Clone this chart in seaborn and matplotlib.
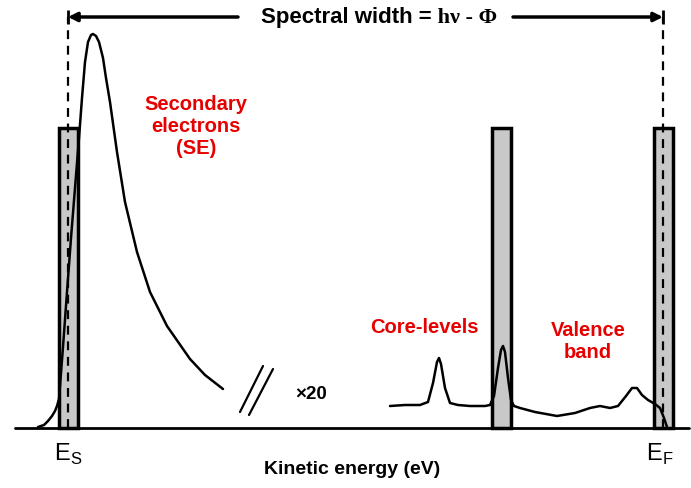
import numpy as np
import pandas as pd
import seaborn as sns
import matplotlib.pyplot as plt

# Schematic photoemission spectrum.
# kinetic energy in arbitrary units (left -> right), intensity in arbitrary units (baseline = 0)
se_energy = [38, 44, 48, 52, 55, 57, 59, 63, 67, 71, 75, 79, 82, 85, 88, 91, 93,
             96, 99, 103, 106, 110, 117, 125, 137, 150, 167, 190, 205, 223]
se_intensity = [1, 3, 7, 12, 17, 22, 29, 81, 136, 190, 240, 290, 330, 366, 386, 393, 394,
                392, 386, 370, 350, 326, 276, 226, 176, 136, 102, 69, 53, 39]

vb_energy = [390, 405, 420, 428, 433, 437, 439, 441, 445, 450, 458, 470, 485, 490,
             494, 498, 501, 503, 505, 508, 511, 514, 520, 535, 557, 575, 590, 600,
             610, 618, 626, 632, 637, 642, 648, 655, 660, 664, 667]
vb_intensity = [22, 23, 23, 26, 45, 66, 70, 64, 40, 25, 23, 22, 22, 23,
                32, 60, 78, 82, 76, 50, 28, 22, 20, 16, 12, 15, 20, 22,
                20, 22, 32, 40, 40, 33, 28, 24, 20, 10, 1]

bar_centers = [69, 502, 663.5]
bar_height = [300, 300, 300]

edge_energy = [68, 663]           # E_S and E_F
edge_labels = ['E$_\\mathregular{S}$', 'E$_\\mathregular{F}$']
edge_label_x = [68, 660]

se = pd.DataFrame({'energy': se_energy, 'intensity': se_intensity})
vb = pd.DataFrame({'energy': vb_energy, 'intensity': vb_intensity})

sns.set_style('white')
plt.rcParams['font.family'] = ['Liberation Sans', 'DejaVu Sans']
plt.rcParams['text.color'] = 'black'

fig = plt.figure(figsize=(6.91, 4.89), dpi=100)
ax = fig.add_axes([0, 0, 1, 1])
ax.set_xlim(0, 691)
ax.set_ylim(-60, 429)
ax.axis('off')

# grey windows
ax.bar(bar_centers, bar_height, width=19, color='#c8c8c8', edgecolor='black',
       linewidth=2.5, zorder=1)

# spectrum
sns.lineplot(data=se, x='energy', y='intensity', sort=False, estimator=None,
             color='black', lw=1.8, ax=ax, zorder=3)
sns.lineplot(data=vb, x='energy', y='intensity', sort=False, estimator=None,
             color='black', lw=1.8, ax=ax, zorder=3)

# energy axis
ax.axhline(0, xmin=15 / 691, xmax=689 / 691, color='black', lw=2, zorder=4)

# dashed edges
ax.vlines(edge_energy, 0, 411, colors='black', linestyles=(0, (4, 3)), lw=1.6, zorder=4)
for xl, lab in zip(edge_label_x, edge_labels):
    ax.text(xl, -25, lab, ha='center', va='center', fontsize=17)

# spectral width arrow (two halves around the label)
arrow = dict(arrowstyle='-|>', color='black', lw=2.5, mutation_scale=13,
             shrinkA=0, shrinkB=0)
ax.annotate('', xy=(edge_energy[0], 411), xytext=(238, 411), arrowprops=arrow)
ax.annotate('', xy=(edge_energy[1], 411), xytext=(513, 411), arrowprops=arrow)
ax.vlines(edge_energy, 404, 418, colors='black', lw=2)
ax.text(432, 411, 'Spectral width =', ha='right', va='center', fontsize=16,
        fontweight='bold')
ax.text(432, 411, ' h\u03bd - \u03a6', ha='left', va='center', fontsize=16,
        fontweight='bold', family='Liberation Serif')

# annotations
red = '#e60000'
ax.text(196, 302, 'Secondary\nelectrons\n(SE)', ha='center', va='center', color=red,
        fontsize=14.5, fontweight='bold', linespacing=1.2)
ax.text(424, 101, 'Core-levels', ha='center', va='center', color=red,
        fontsize=14.5, fontweight='bold')
ax.text(588, 87, 'Valence\nband', ha='center', va='center', color=red,
        fontsize=14.5, fontweight='bold', linespacing=1.2)
ax.text(311, 34, '\u00d720', ha='center', va='center', fontsize=13.5, fontweight='bold')

# axis break marks
ax.plot([240, 263], [16, 62], color='black', lw=1.6)
ax.plot([249, 273], [13, 59], color='black', lw=1.6)

ax.text(352, -41, 'Kinetic energy (eV)', ha='center', va='center', fontsize=14,
        fontweight='bold')

fig.savefig('out.png', dpi=100)
